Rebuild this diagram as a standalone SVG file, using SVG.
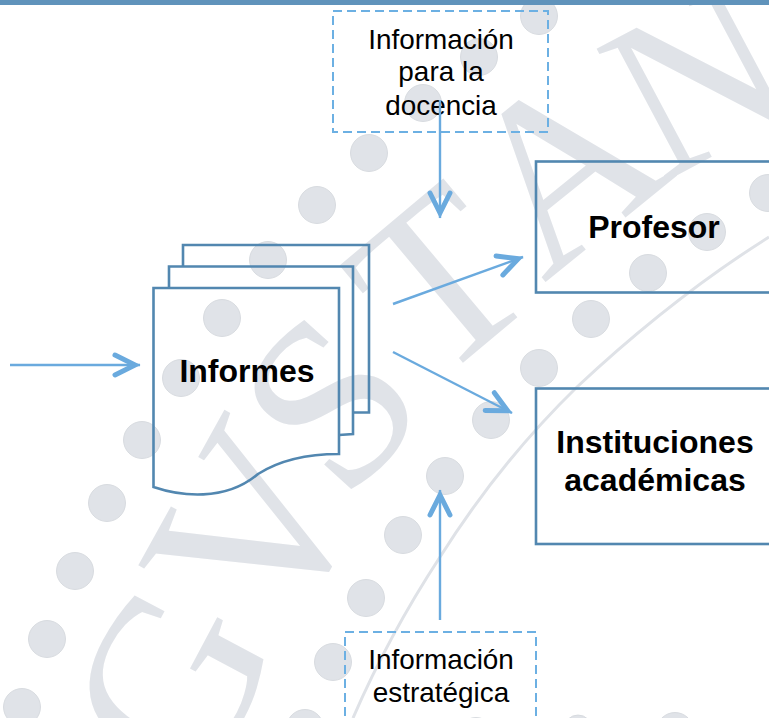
<svg xmlns="http://www.w3.org/2000/svg" width="769" height="718" viewBox="0 0 769 718">
<style>
.wm{fill:#e0e3e8;stroke:#d2d5da;stroke-width:.8}
.ltr{font-family:"Liberation Serif",serif;text-anchor:middle;fill:#e0e3e8}
.box{fill:none;stroke:#5287b0;stroke-width:2.6}
.dash{fill:none;stroke:#6cb0e3;stroke-width:2;stroke-dasharray:9 5}
.con{fill:none;stroke:#6aaade;stroke-width:2.4;marker-end:url(#chev)}
.t{font-family:"Liberation Sans",Arial,sans-serif;font-size:27.9px;text-anchor:middle;fill:#000}
.b{font-family:"Liberation Sans",Arial,sans-serif;font-size:32px;font-weight:bold;text-anchor:middle;fill:#000}
</style>
<defs>
<marker id="chev" markerUnits="userSpaceOnUse" markerWidth="34" markerHeight="30" refX="29" refY="12" viewBox="0 0 34 30" orient="auto" overflow="visible">
<path d="M4,2 L24,12 L4,22" fill="none" stroke="#6aaade" stroke-width="5" stroke-linecap="round"/>
</marker>
</defs>
<rect width="769" height="718" fill="#fff"/>
<g id="watermark">
<g class="wm">
<circle cx="539" cy="16" r="18.5"/><circle cx="479" cy="57" r="18.5"/><circle cx="423" cy="103" r="18.5"/><circle cx="369" cy="153" r="18.5"/><circle cx="317" cy="205" r="18.5"/><circle cx="268" cy="260" r="18.5"/><circle cx="222" cy="318" r="18.5"/><circle cx="181" cy="378" r="18.5"/><circle cx="142" cy="440" r="18.5"/><circle cx="107" cy="503" r="18.5"/><circle cx="75" cy="571" r="18.5"/><circle cx="47" cy="639" r="18.5"/><circle cx="22" cy="707" r="18.5"/>
<circle cx="768" cy="193" r="18.5"/><circle cx="707" cy="232" r="18.5"/><circle cx="648" cy="273" r="18.5"/><circle cx="591" cy="319" r="18.5"/><circle cx="539" cy="368" r="18.5"/><circle cx="491" cy="420" r="18.5"/><circle cx="445" cy="476" r="18.5"/><circle cx="403" cy="535" r="18.5"/><circle cx="366" cy="598" r="18.5"/><circle cx="333" cy="662" r="18.5"/><circle cx="305" cy="728" r="18.5"/><circle cx="476" cy="736" r="18.5"/><circle cx="675" cy="731" r="18.5"/><circle cx="578" cy="729" r="14"/>
</g>
<path d="M769,237 Q672,298 577,387 Q500,462 440,557 Q389,635 353,718" fill="none" stroke="#dfe2e7" stroke-width="3"/>
<text class="ltr" font-size="240" transform="translate(170,682) rotate(-62)" y="80">G</text>
<text class="ltr" font-size="254" transform="translate(327,568) rotate(-61)">V</text>
<text class="ltr" font-size="240" transform="translate(330,402) rotate(-48)" y="80">S</text>
<text class="ltr" font-size="235" transform="translate(440,280) rotate(-40)" y="78">T</text>
<text class="ltr" font-size="240" transform="translate(611,229) rotate(-39)">A</text>
<text class="ltr" font-size="228" transform="translate(698,78) rotate(-28)" y="76">N</text>
</g>
<rect x="0" y="0" width="769" height="5" fill="#6093bb"/>
<g id="informes">
<path class="box" d="M183,266 V245 H369 V412.5 H353"/>
<path class="box" d="M169,288 V266.5 H353 V434 L339,435"/>
<path class="box" d="M153.500,487 C180,496 225,502 258,474 C280,460 305,454 339,454 V288 H153.500 Z"/>
<text class="b" x="247" y="382">Informes</text>
</g>
<g id="profesor">
<rect class="box" x="536" y="161.500" width="240" height="131"/>
<text class="b" x="654" y="238">Profesor</text>
</g>
<g id="instituciones">
<rect class="box" x="536" y="388.500" width="240" height="155.500"/>
<text class="b" x="655" y="453">Instituciones</text>
<text class="b" x="655" y="491">académicas</text>
</g>
<g id="info-docencia">
<rect class="dash" x="333" y="11" width="215" height="121"/>
<text class="t" x="441" y="49">Información</text>
<text class="t" x="441" y="81">para la</text>
<text class="t" x="441" y="115">docencia</text>
</g>
<g id="info-estrategica">
<path class="dash" d="M345,730 V632 H536 V730"/>
<text class="t" x="441" y="669">Información</text>
<text class="t" x="441" y="702">estratégica</text>
</g>
<g id="connectors">
<path class="con" d="M10,365 H140"/>
<path class="con" d="M393,304 L523,257"/>
<path class="con" d="M393,352 L512,413"/>
<path class="con" d="M440,100 V218"/>
<path class="con" d="M440,620 V490"/>
</g>
</svg>
